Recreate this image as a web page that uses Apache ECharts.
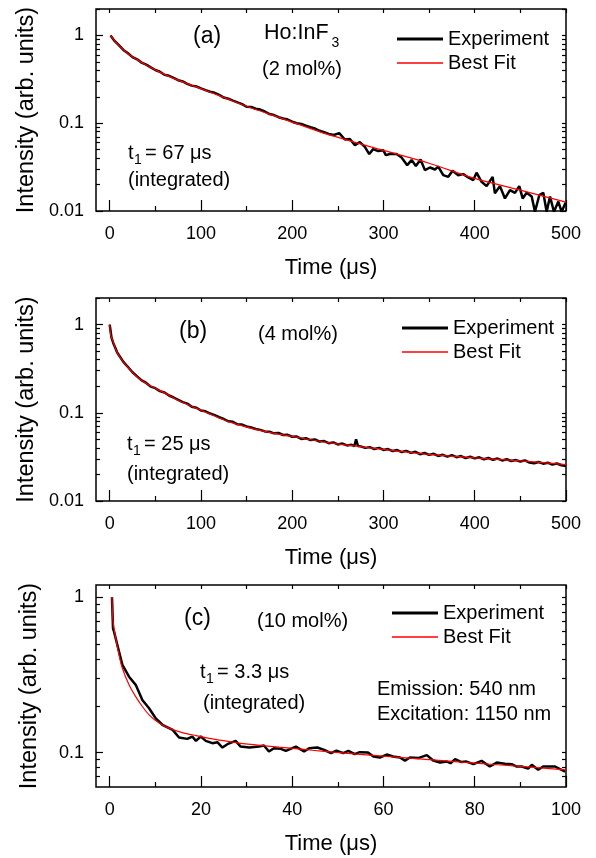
<!DOCTYPE html>
<html>
<head>
<meta charset="utf-8">
<script src="https://cdn.jsdelivr.net/npm/echarts@6/dist/echarts.min.js"></script>
<style>
  html, body { margin: 0; padding: 0; background: #fff; }
  #chart { width: 596px; height: 858px; }
</style>
</head>
<body>
<div id="chart"></div>
<script>
// ---- data ----
// (a) 2 mol%
const expA_t = [1, 5, 10, 15, 20, 25, 30, 35, 40, 45, 50, 55, 60, 65, 70, 75, 80, 85, 90, 95,
  100, 105, 110, 115, 120, 125, 130, 135, 140, 145, 150, 155, 160, 165, 170, 175, 180, 185, 190, 195,
  200, 205, 210, 215, 220, 225, 230, 235, 240,
  245.6, 251.5, 257.7, 263.2, 268.7, 274.1, 279.6, 284.4, 288.7, 294.2,
  299.7, 302.6, 307, 314.3, 319.8, 326, 330.8, 335.5, 340.6, 345.4,
  350.9, 356.4, 360, 365.5, 371, 375.7, 381.9, 387.4, 392.9, 398.4,
  402, 407.5, 413, 419.6, 422.1, 427.6, 433.1, 438.6, 444.1, 448.8,
  452.5, 456.9, 462.4, 466, 470.8, 475.1, 478.8, 482.5, 486.8, 491.6,
  495.2, 498.9, 500];
const expA_v = [1.0, 0.872, 0.775, 0.684, 0.626, 0.566, 0.535, 0.49, 0.465, 0.432,
  0.404, 0.386, 0.357, 0.347, 0.328, 0.309, 0.299, 0.281, 0.268, 0.262,
  0.249, 0.238, 0.228, 0.222, 0.21, 0.196, 0.19, 0.181, 0.173, 0.165,
  0.154, 0.153, 0.146, 0.143, 0.136, 0.127, 0.124, 0.117, 0.113, 0.11,
  0.104, 0.1, 0.098, 0.094, 0.09, 0.087, 0.082, 0.079, 0.0755,
  0.0735, 0.077, 0.0652, 0.066, 0.0562, 0.0608, 0.0538, 0.0445, 0.0507, 0.0481,
  0.0493, 0.0433, 0.0445, 0.0445, 0.0407, 0.0333, 0.038, 0.0325, 0.0386, 0.0292,
  0.0313, 0.0297, 0.032, 0.0256, 0.0245, 0.0287, 0.0256, 0.0263, 0.0241, 0.0225,
  0.0273, 0.0215, 0.0192, 0.0245, 0.0159, 0.0192, 0.0139, 0.0173, 0.0161, 0.0192,
  0.0139, 0.0161, 0.0146, 0.0098, 0.0152, 0.0161, 0.0098, 0.0146, 0.0098, 0.0128,
  0.0098, 0.012, 0.0125];
const fitA_t = [1, 5, 10, 15, 20, 30, 40, 50, 60, 75, 100, 125, 150, 175, 200, 240, 300, 350, 400, 450, 500];
const fitA_v = [1.0, 0.88, 0.77, 0.69, 0.62, 0.53, 0.46, 0.405, 0.36, 0.31, 0.248, 0.197, 0.156, 0.127,
  0.103, 0.074, 0.049, 0.035, 0.0235, 0.0173, 0.0126];

// (b) 4 mol%
const expB_t = [0, 2, 4, 6, 8, 10, 15, 20, 25, 30, 35, 40, 45, 50, 55, 60, 65, 70, 75, 80,
  85, 90, 95, 100, 105, 110, 115, 120, 125, 130, 135, 140, 145, 150, 155, 160, 165, 170, 175, 180,
  185, 190, 195, 200, 205, 210, 215, 220, 225, 230, 235, 240, 245, 250, 255, 260, 265, 268, 270, 272,
  275, 280, 285, 290, 295, 300, 305, 310, 315, 320, 325, 330, 335, 340, 345, 350, 355, 360, 365, 370,
  375, 380, 385, 390, 395, 400, 405, 410, 415, 420, 425, 430, 435, 440, 445, 450, 455, 460, 465, 470,
  475, 480, 485, 490, 495, 500];
const expB_v = [1.0, 0.71, 0.615, 0.55, 0.488, 0.452, 0.378, 0.33, 0.288, 0.259,
  0.233, 0.218, 0.198, 0.19, 0.176, 0.17, 0.157, 0.149, 0.14, 0.132,
  0.127, 0.117, 0.114, 0.106, 0.104, 0.098, 0.094, 0.089, 0.085, 0.08,
  0.079, 0.074, 0.0735, 0.07, 0.068, 0.0655, 0.064, 0.0615, 0.061, 0.0585,
  0.059, 0.056, 0.0562, 0.0535, 0.0538, 0.0505, 0.0515, 0.049, 0.0498, 0.0472,
  0.0478, 0.0452, 0.0462, 0.0438, 0.0448, 0.0426, 0.0434, 0.0418, 0.05, 0.0421,
  0.0416, 0.04, 0.0408, 0.0388, 0.04, 0.0379, 0.0388, 0.0368, 0.0378, 0.0359,
  0.037, 0.0351, 0.0361, 0.0339, 0.035, 0.0333, 0.0343, 0.0324, 0.0334, 0.0318,
  0.0331, 0.0314, 0.0323, 0.0306, 0.0317, 0.0304, 0.0313, 0.0297, 0.0307, 0.0293,
  0.0303, 0.0288, 0.0297, 0.0284, 0.0291, 0.028, 0.0289, 0.0273, 0.0268, 0.0277,
  0.0265, 0.0272, 0.0259, 0.0266, 0.0254, 0.025];
const fitB_t = [0, 1, 3, 7, 12, 21, 32, 43, 60, 76, 100, 131, 167, 200, 241, 300, 350, 400, 450, 500];
const fitB_v = [1.0, 0.77, 0.67, 0.516, 0.415, 0.319, 0.245, 0.206, 0.168, 0.137, 0.107, 0.079, 0.0624,
  0.054, 0.0456, 0.0384, 0.0337, 0.0308, 0.0285, 0.0259];

// (c) 10 mol%
const expC_t = [0.5, 0.73, 0.95, 1.68, 2.78, 4.24, 5.7, 7.16, 8.63, 10.1,
  11.55, 13.8, 15.2, 17, 18.1, 18.9, 19.96, 21.05, 22.5, 23.6,
  24.7, 25.8, 27.6, 28.7, 30.6, 32.7, 33.8, 34.9, 36, 37.5,
  38.6, 40.8, 42.6, 43.7, 45.5, 47, 48.5, 49.7, 51.2, 52.3,
  53.7, 54.8, 56.6, 57.8, 59.2, 60.7, 62.1, 63.6, 64.7, 65.8,
  67.6, 69.5, 70.9, 72.4, 73.9, 74.7, 75.7, 77.1, 78.2, 79.7,
  81.5, 83.3, 84.8, 86.6, 88.1, 89.2, 90.3, 91.7, 92.5, 93.9,
  95, 96.5, 97.6, 98.7, 99.8];
const expC_v = [1.0, 0.63, 0.601, 0.493, 0.367, 0.308, 0.273, 0.218, 0.193, 0.166,
  0.151, 0.14, 0.125, 0.1225, 0.1268, 0.1189, 0.1268, 0.1189, 0.1149, 0.1166,
  0.1077, 0.1132, 0.1189, 0.1093, 0.1077, 0.1093, 0.111, 0.1015, 0.1067, 0.1056,
  0.1025, 0.1093, 0.1015, 0.1067, 0.1077, 0.1041, 0.099, 0.103, 0.0991, 0.1025,
  0.0976, 0.1006, 0.0999, 0.0943, 0.0929, 0.0971, 0.0943, 0.0929, 0.0888, 0.0929,
  0.0921, 0.0962, 0.0888, 0.0862, 0.0875, 0.0854, 0.0907, 0.0868, 0.0875, 0.0842,
  0.0884, 0.0813, 0.0862, 0.0846, 0.0842, 0.0813, 0.0813, 0.0789, 0.0834, 0.0774,
  0.0813, 0.0813, 0.0813, 0.0782, 0.0755];
const fitC_t = [0.5, 0.7, 1.32, 2.05, 2.78, 4.24, 5.7, 7.16, 8.63, 10.82, 13, 15.9, 18.9, 22.5, 26.2,
  29.8, 33.5, 37.1, 40.8, 44.4, 49.6, 60, 70, 80, 90, 100];
const fitC_v = [1.0, 0.72, 0.545, 0.425, 0.349, 0.273, 0.229, 0.198, 0.175, 0.155, 0.1436, 0.1345,
  0.1286, 0.1225, 0.1177, 0.1137, 0.1109, 0.1083, 0.1061, 0.1035, 0.1003, 0.0948, 0.0901, 0.0856,
  0.0814, 0.0774];

// tick values
const xMajor500 = [0, 100, 200, 300, 400, 500];
const xMinor500 = [50, 150, 250, 350, 450];
const xMajor100 = [0, 20, 40, 60, 80, 100];
const xMinor100 = [10, 30, 50, 70, 90];
const yMajorAB = [0.01, 0.1, 1];
const yMinorAB = [0.02, 0.03, 0.04, 0.05, 0.06, 0.07, 0.08, 0.09, 0.2, 0.3, 0.4, 0.5, 0.6, 0.7, 0.8, 0.9, 2];
const yMajorC = [0.1, 1];
const yMinorC = [0.07, 0.08, 0.09, 0.2, 0.3, 0.4, 0.5, 0.6, 0.7, 0.8, 0.9];

const FONT = '"Liberation Sans", Arial, sans-serif';

const pairs = (ts, vs) => ts.map((t, i) => [t, vs[i]]);

const panels = [
  { top: 9, height: 202, xMin: -15, xMax: 500, xMaj: xMajor500, xMin2: xMinor500,
    yMin: 0.01, yMax: 2, yMaj: yMajorAB, yMin2: yMinorAB,
    exp: pairs(expA_t, expA_v), fit: pairs(fitA_t, fitA_v), leg: [397, 29] },
  { top: 298, height: 203, xMin: -15, xMax: 500, xMaj: xMajor500, xMin2: xMinor500,
    yMin: 0.01, yMax: 2, yMaj: yMajorAB, yMin2: yMinorAB,
    exp: pairs(expB_t, expB_v), fit: pairs(fitB_t, fitB_v), leg: [402, 318] },
  { top: 585, height: 202, xMin: -3, xMax: 100, xMaj: xMajor100, xMin2: xMinor100,
    yMin: 0.06, yMax: 1.2, yMaj: yMajorC, yMin2: yMinorC,
    exp: pairs(expC_t, expC_v), fit: pairs(fitC_t, fitC_v), leg: [392, 603] },
];

const tickLine = { color: '#000', width: 1.2 };
const labelFmt = (v) => String(parseFloat(Number(v).toPrecision(3)));

const grid = [], xAxis = [], yAxis = [], series = [], legend = [];

panels.forEach((p, i) => {
  grid.push({ left: 96, width: 470, top: p.top, height: p.height,
    show: true, borderColor: '#000', borderWidth: 1.5 });

  const xBase = { type: 'value', gridIndex: i, min: p.xMin, max: p.xMax,
    splitLine: { show: false }, axisLine: { show: false, onZero: false } };
  xAxis.push(Object.assign({}, xBase, {
    position: 'bottom',
    name: 'Time (μs)', nameLocation: 'middle', nameGap: 46,
    nameTextStyle: { fontSize: 22, color: '#000', fontFamily: FONT },
    axisTick: { inside: true, length: 11, customValues: p.xMaj, lineStyle: tickLine },
    axisLabel: { customValues: p.xMaj, margin: 14, fontSize: 18, color: '#000', fontFamily: FONT },
  }));
  xAxis.push(Object.assign({}, xBase, {
    position: 'bottom',
    axisTick: { inside: true, length: 5, customValues: p.xMin2, lineStyle: tickLine },
    axisLabel: { show: false },
  }));
  xAxis.push(Object.assign({}, xBase, {
    position: 'top',
    axisTick: { inside: true, length: 4, customValues: p.xMaj.concat(p.xMin2), lineStyle: tickLine },
    axisLabel: { show: false },
  }));

  const yBase = { type: 'log', logBase: 10, gridIndex: i, min: p.yMin, max: p.yMax,
    splitLine: { show: false }, axisLine: { show: false, onZero: false } };
  yAxis.push(Object.assign({}, yBase, {
    position: 'left',
    name: 'Intensity (arb. units)', nameLocation: 'middle', nameGap: 54,
    nameTextStyle: { fontSize: 23.5, color: '#000', fontFamily: FONT },
    axisTick: { inside: true, length: 7, customValues: p.yMaj, lineStyle: tickLine },
    axisLabel: { customValues: p.yMaj, margin: 12, fontSize: 18, color: '#000',
      fontFamily: FONT, formatter: labelFmt },
  }));
  yAxis.push(Object.assign({}, yBase, {
    position: 'left',
    axisTick: { inside: true, length: 4, customValues: p.yMin2, lineStyle: tickLine },
    axisLabel: { show: false },
  }));
  yAxis.push(Object.assign({}, yBase, {
    position: 'right',
    axisTick: { inside: true, length: 4, customValues: p.yMaj.concat(p.yMin2), lineStyle: tickLine },
    axisLabel: { show: false },
  }));

  series.push({
    name: 'Experiment', type: 'line', xAxisIndex: 3 * i, yAxisIndex: 3 * i,
    data: p.exp, symbol: 'none', clip: true, z: 2,
    lineStyle: { color: '#000', width: 2.5 }, itemStyle: { color: '#000' },
  });
  series.push({
    name: 'Best Fit', type: 'line', xAxisIndex: 3 * i, yAxisIndex: 3 * i,
    data: p.fit, symbol: 'none', smooth: 0.3, clip: true, z: 3,
    lineStyle: { color: '#ff0000', width: 1.2 }, itemStyle: { color: '#ff0000' },
  });

  legend.push({
    left: p.leg[0], top: p.leg[1], orient: 'vertical', padding: 0,
    itemWidth: 46, itemHeight: 14, itemGap: 4, selectedMode: false,
    itemStyle: { borderWidth: 0 },
    textStyle: { fontSize: 20, color: '#000', fontFamily: FONT },
    data: [
      { name: 'Experiment', icon: 'path://M0,0H46V3H0Z' },
      { name: 'Best Fit', icon: 'path://M0,0H46V1.6H0Z' },
    ],
  });
});

// annotation texts
const txt = (x, y, text, size) => ({
  type: 'text', x, y, silent: true,
  style: { text, fontSize: size || 20, fontFamily: FONT, fill: '#000', verticalAlign: 'middle' },
});

const graphic = [
  txt(193, 37, '(a)', 23),
  txt(264, 33, 'Ho:InF', 21.5), txt(331.5, 43, '3', 14),
  txt(262, 69, '(2 mol%)'),
  txt(128, 153, 't'), txt(134, 160, '1', 14), txt(139.5, 153, ' = 67 μs'),
  txt(128, 180, '(integrated)'),

  txt(179, 332, '(b)', 23),
  txt(258, 334, '(4 mol%)'),
  txt(127, 444, 't'), txt(133, 451, '1', 14), txt(138.5, 444, ' = 25 μs'),
  txt(127, 474, '(integrated)'),

  txt(184, 619, '(c)', 23),
  txt(257, 621, '(10 mol%)'),
  txt(200, 672, 't'), txt(206, 679, '1', 14), txt(211.5, 672, ' = 3.3 μs'),
  txt(203, 703, '(integrated)'),
  txt(377, 689, 'Emission: 540 nm'),
  txt(377, 714, 'Excitation: 1150 nm'),
];

const chart = echarts.init(document.getElementById('chart'));
chart.setOption({
  animation: false,
  backgroundColor: '#fff',
  textStyle: { fontFamily: FONT },
  grid, xAxis, yAxis, series, legend, graphic,
});
</script>
</body>
</html>
